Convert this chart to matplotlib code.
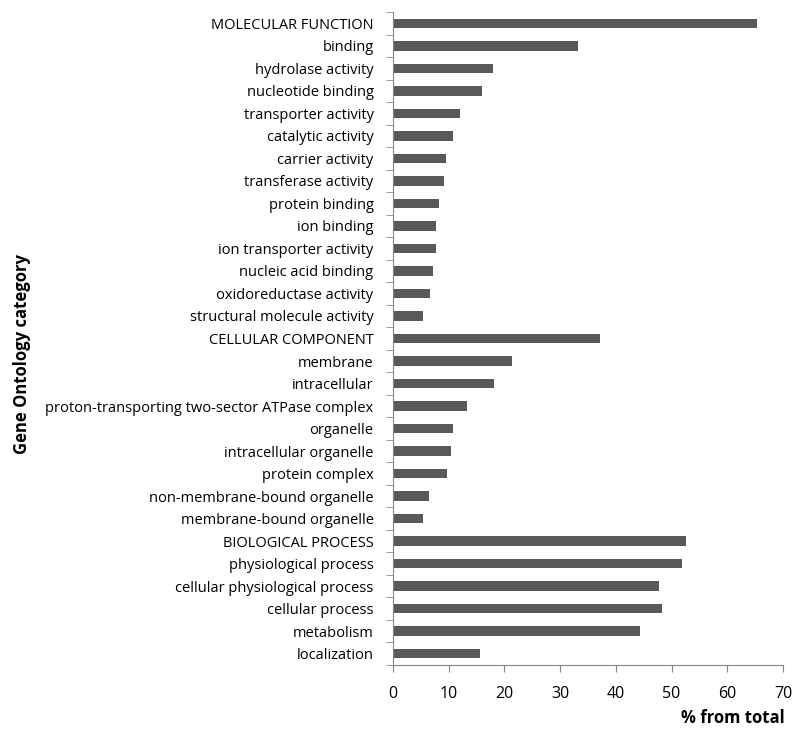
import numpy as np
import matplotlib
matplotlib.use('Agg')
import matplotlib.pyplot as plt

plt.rcParams['font.family'] = ['Open Sans', 'DejaVu Sans']

categories = [
    'MOLECULAR FUNCTION', 'binding', 'hydrolase activity', 'nucleotide binding',
    'transporter activity', 'catalytic activity', 'carrier activity',
    'transferase activity', 'protein binding', 'ion binding',
    'ion transporter activity', 'nucleic acid binding', 'oxidoreductase activity',
    'structural molecule activity', 'CELLULAR COMPONENT', 'membrane',
    'intracellular', 'proton-transporting two-sector ATPase complex', 'organelle',
    'intracellular organelle', 'protein complex', 'non-membrane-bound organelle',
    'membrane-bound organelle', 'BIOLOGICAL PROCESS', 'physiological process',
    'cellular physiological process', 'cellular process', 'metabolism',
    'localization',
]
values = [
    65.4, 33.2, 18.0, 15.9, 12.1, 10.8, 9.6, 9.2, 8.3, 7.7,
    7.7, 7.1, 6.6, 5.4, 37.2, 21.4, 18.2, 13.2, 10.8, 10.4,
    9.7, 6.4, 5.3, 52.5, 51.9, 47.8, 48.2, 44.3, 15.6,
]
xticks = [0, 10, 20, 30, 40, 50, 60, 70]

fig = plt.figure(figsize=(8, 7.39), dpi=100)
ax = fig.add_axes([393/800, 1-665/739, 390/800, (665-12)/739])

n = len(categories)
ypos = np.arange(n)
ax.barh(ypos, values, height=0.42, color='#595959')
ax.set_ylim(n - 0.5, -0.5)
ax.set_xlim(0, 70)
ax.set_xticks(xticks)
ax.set_yticks(ypos)
ax.set_yticklabels(categories, fontsize=10.5)
ax.set_yticks(np.arange(n + 1) - 0.5, minor=True)
ax.tick_params(axis='y', which='major', length=0, pad=14)
ax.tick_params(axis='y', which='minor', length=5, color='#868686', direction='out')
ax.tick_params(axis='x', length=5, color='#868686', labelsize=11.5, pad=10)

for s in ['top', 'right']:
    ax.spines[s].set_visible(False)
for s in ['left', 'bottom']:
    ax.spines[s].set_color('#868686')

fig.text(785/800, 1-718/739, '% from total', ha='right', va='center',
         fontsize=12, fontweight='bold')
fig.text(22/800, 1-354/739, 'Gene Ontology category', ha='center', va='center',
         rotation=90, fontsize=12, fontweight='bold')

fig.savefig('out.png', dpi=100)
